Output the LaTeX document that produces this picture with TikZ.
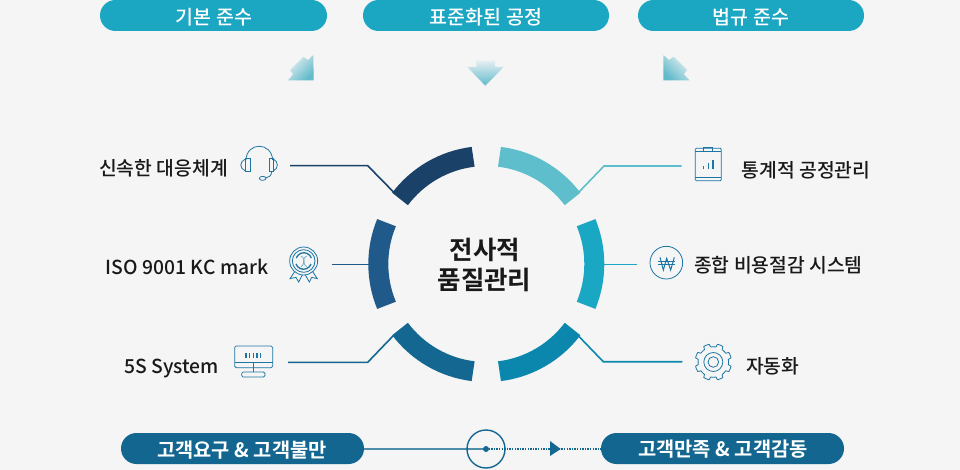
\documentclass[tikz,border=0pt]{standalone}
\usepackage{fontspec}
\setmainfont{Noto Sans CJK KR}[BoldFont={Noto Sans CJK KR Bold}]
\newfontfamily\medfont{Noto Sans CJK KR Medium}
\usetikzlibrary{calc}
\definecolor{bgc}{HTML}{F5F5F5}
\definecolor{pilltop}{HTML}{1BA6C2}
\definecolor{pillbot}{HTML}{12668F}
\definecolor{atl}{HTML}{1A4268}
\definecolor{al}{HTML}{205A8B}
\definecolor{abl}{HTML}{146791}
\definecolor{abr}{HTML}{0B87AE}
\definecolor{ar}{HTML}{1AA7C4}
\definecolor{atr}{HTML}{5FBECB}
\definecolor{ico}{HTML}{1D75A3}
\definecolor{arrowlight}{HTML}{E4EFF2}
\definecolor{arrowdark}{HTML}{62BACA}
\tikzset{
  pilla/.style={rounded corners=15.5pt,fill=pilltop,text=white,minimum height=31pt,inner sep=0pt,font=\medfont\fontsize{19.5}{20}\selectfont},
  pillb/.style={rounded corners=15.5pt,fill=pillbot,text=white,minimum height=31pt,inner sep=0pt,font=\bfseries\fontsize{19.8}{20}\selectfont},
  pilltext/.style={text=white,inner sep=0pt},
  lab/.style={text=black!90,inner sep=0pt,font=\medfont\fontsize{19.3}{20}\selectfont},
  ctr/.style={text=black!90,inner sep=0pt,font=\bfseries\fontsize{25.5}{26}\selectfont},
  seg/.style={line width=20pt},
  conn/.style={line width=1.6pt},
  icon/.style={draw=ico,line width=0.8pt},
  zoomed/.style={x=0.33333pt,y=-0.33333pt},
}
\newcommand{\ringarc}[3]{\draw[seg,#1] ($(ringc)+(#2:108)$) arc[start angle=#2,end angle=#3,radius=108];}
\begin{document}
\begin{tikzpicture}[x=1pt,y=-1pt]
\useasboundingbox (0,0) rectangle (960,470);
\fill[bgc] (0,0) rectangle (960,470);
\coordinate (ringc) at (486.3,264);
% top pills
\node[pilla,minimum width=227pt,text height=15pt,text depth=0pt] (p1) at (213.5,15.5) {};
\node[pilla,minimum width=246pt] (p2) at (486,15.5) {};
\node[pilla,minimum width=226pt] (p3) at (751,15.5) {};
\node[pilltext,font=\medfont\fontsize{19.5}{20}\selectfont] (t1) at (214,17) {기본 준수};
\node[pilltext,font=\medfont\fontsize{19.5}{20}\selectfont] (t2) at (486,17) {표준화된 공정};
\node[pilltext,font=\medfont\fontsize{19.5}{20}\selectfont] (t3) at (751,17) {법규 준수};
% arrows
\shade[top color=arrowlight,bottom color=arrowdark,shading angle=45]
  (313.7,80.3)--(288,80.3)--(293,74.3)--(290,70)--(303.3,56.7)--(308,60)--(313.3,55)--cycle;
\shade[top color=arrowlight,bottom color=arrowdark]
  (476.3,60.7)--(495,60.7)--(495,67)--(503.7,67)--(485.3,85.7)--(467.3,67)--(476.3,67)--cycle;
\shade[top color=arrowlight,bottom color=arrowdark,shading angle=-45]
  (663.3,80.3)--(689.5,80.3)--(684,74.3)--(687,70)--(673.7,56.7)--(669,60)--(663.5,55)--cycle;
% ring
\ringarc{atl}{-97}{-143}
\ringarc{al}{-157.5}{-202.5}
\ringarc{abl}{-217}{-263}
\ringarc{abr}{-277}{-323}
\ringarc{ar}{-337.5}{-382.5}
\ringarc{atr}{-397}{-443}
% centre
\node[ctr] (c1) at (485,249.5) {전사적};
\node[ctr] (c2) at (484.5,280) {품질관리};
% labels
\node[lab,anchor=east] (l1) at (228,168.5) {신속한 대응체계};
\node[lab,anchor=east] (l2) at (268.5,266.5) {ISO 9001 KC mark};
\node[lab,anchor=east] (l3) at (219,368.5) {5S System};
\node[lab,anchor=west] (r1) at (741.5,170) {통계적 공정관리};
\node[lab,anchor=west] (r2) at (694,265.5) {종합 비용절감 시스템};
\node[lab,anchor=west] (r3) at (746,366.5) {자동화};
% connectors
\coordinate (a1) at (290,165.7); \coordinate (b1) at (367.7,165.7); \coordinate (e1) at (394,192.5);
\coordinate (a2) at (331.7,264.5); \coordinate (e2) at (369,264.5);
\coordinate (a3) at (288,362.3); \coordinate (b3) at (367.7,362.3); \coordinate (e3) at (393,336);
\coordinate (a4) at (681.7,166); \coordinate (b4) at (604,166); \coordinate (e4) at (579,192);
\coordinate (a5) at (637.3,264.5); \coordinate (e5) at (604,264.5);
\coordinate (a6) at (682.3,361.7); \coordinate (b6) at (603.3,361.7); \coordinate (e6) at (579,336.5);
\draw[conn,atl] (a1)--(b1)--(e1);
\draw[conn,al] (a2)--(e2);
\draw[conn,abl] (a3)--(b3)--(e3);
\draw[conn,atr] (a4)--(b4)--(e4);
\draw[conn,ar] (a5)--(e5);
\draw[conn,abr] (a6)--(b6)--(e6);
% bottom
\node[pillb,minimum width=243pt] (q1) at (242.5,448.5) {};
\node[pillb,minimum width=243pt] (q2) at (722.5,448.5) {};
\node[pilltext,font=\bfseries\fontsize{19.8}{20}\selectfont] (u1) at (242,450) {고객요구 \& 고객불만};
\node[pilltext,font=\bfseries\fontsize{19.8}{20}\selectfont] (u2) at (723,449.5) {고객만족 \& 고객감동};
\coordinate (hub) at (486,449);
\draw[line width=1.2pt,abl!75] (q1.east |- hub)--(hub);
\draw[line width=1.2pt,abl,dash pattern=on 1.3pt off 1.3pt] (hub)--(q2.west |- hub);
\draw[line width=1.4pt,abl] (hub) circle[radius=19];
\fill[abl] (hub) circle[radius=3];
\fill[abl] (550,441)--(560.7,449)--(550,456)--cycle;
% headset
\begin{scope}[shift={(220,130)},zoomed]
  \draw[icon] (78,90) .. controls (80,35) and (155,35) .. (158,90);
  \draw[icon] (76,85) rectangle (90,125);
  \draw[icon] (147,85) rectangle (160,125);
  \draw[icon] (76,87) .. controls (58,95) and (58,115) .. (76,123);
  \draw[icon] (160,87) .. controls (176,95) and (176,115) .. (160,123);
  \draw[icon] (155,125) .. controls (155,138) and (145,142) .. (138,144);
  \draw[icon] (128,145) ellipse[x radius=10,y radius=6];
\end{scope}
% medal
\begin{scope}[shift={(220,130)},zoomed]
  \draw[icon] (251,393) circle[radius=42];
  \draw[icon] (251,393) circle[radius=34];
  \draw[icon,line width=1.3pt] (228,402) arc[start angle=160,end angle=20,radius=24];
  \draw[icon,line width=1.3pt] (274,384) arc[start angle=-20,end angle=-160,radius=24];
  \draw[icon,draw=ico!60] (243,378) .. controls (262,390) and (243,398) .. (260,410);
  \draw[icon,draw=ico!60] (260,378) .. controls (241,390) and (260,398) .. (243,410);
  \draw[icon] (224,425)--(210,446)--(228,442)--(236,456)--(247,435);
  \draw[icon] (256,435)--(268,456)--(275,442)--(292,446)--(278,425);
\end{scope}
% monitor
\begin{scope}[shift={(220,300)},zoomed]
  \draw[icon,rounded corners=1.5pt] (44,138) rectangle (158,203);
  \draw[icon] (44,187)--(158,187);
  \draw[icon] (100,187)--(100,216);
  \draw[icon,rounded corners=1.5pt] (65,216) rectangle (135,231);
  \foreach \xx in {78,89,100,111,121}{\draw[ico,line width=1.1pt] (\xx,160)--(\xx,175);}
\end{scope}
% clipboard
\begin{scope}[shift={(560,130)},zoomed]
  \draw[icon,rounded corners=1pt] (406,55) rectangle (484,152);
  \draw[icon] (406,65)--(484,65);
  \draw[icon] (406,143)--(484,143);
  \draw[icon] (430,65)--(430,53)--(458,53)--(458,65);
  \draw[ico,line width=1.6pt] (431,118)--(431,108);
  \draw[ico,line width=1.6pt] (445,118)--(445,100);
  \draw[ico,line width=1.6pt] (459,118)--(459,90);
\end{scope}
% won
\begin{scope}[shift={(560,130)},zoomed]
  \draw[icon] (319,398) circle[radius=49];
  \draw[icon,line width=1pt] (300,382)--(310,420)--(320,385)--(332,420)--(343,382);
  \draw[icon,line width=1pt] (295,394)--(345,394);
  \draw[icon,line width=1pt] (295,404)--(345,404);
\end{scope}
% gear
\begin{scope}[shift={(713.3,362)}]
  \draw[icon] plot[domain=0:360,samples=321,variable=\t] ({\t+22.5}:{15.2+3*min(1,max(0,2*cos(8*\t)+0.4))}) -- cycle;
  \draw[icon] (0,0) circle[radius=9.5];
  \draw[icon] (0,0) circle[radius=5.3];
\end{scope}
\end{tikzpicture}
\end{document}
